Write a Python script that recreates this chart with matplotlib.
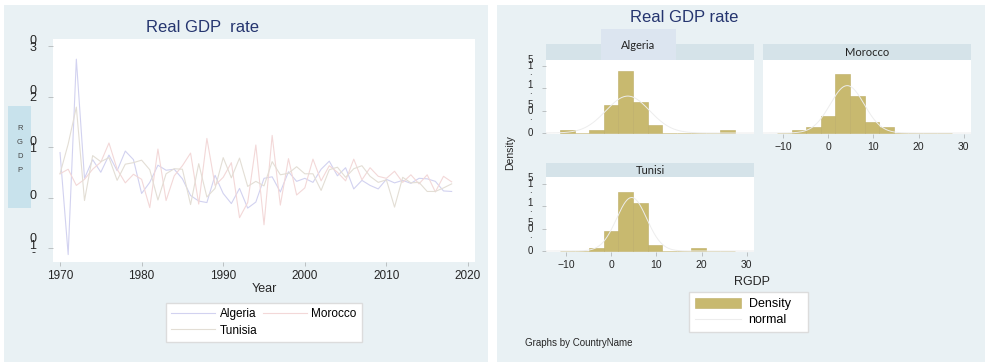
import numpy as np
import matplotlib
matplotlib.use("Agg")
import matplotlib.pyplot as plt
from matplotlib.patches import Rectangle, Patch
from matplotlib.lines import Line2D

# ---------------- data: real GDP growth (%) ----------------
years = list(range(1970, 2019))

algeria = [8.9, -11.3, 27.4, 3.8, 7.5, 5.0, 8.4, 5.3, 9.2, 7.5,
           0.8, 3.0, 6.4, 5.4, 5.6, 3.7, 0.4, -0.7, -1.0, 4.4,
           0.8, -1.2, 1.8, -2.1, -0.9, 3.8, 4.1, 1.1, 5.1, 3.2,
           3.8, 3.0, 5.6, 7.2, 4.3, 5.9, 1.7, 3.4, 2.4, 1.7,
           3.6, 2.9, 3.4, 2.8, 3.8, 3.7, 3.2, 1.3, 1.2]

morocco = [4.7, 5.6, 2.4, 3.6, 5.6, 7.0, 10.8, 5.6, 2.9, 4.6,
           3.6, -2.0, 9.6, -0.6, 4.3, 6.3, 8.8, -1.3, 11.7, 2.4,
           4.0, 6.9, -4.0, -1.0, 10.4, -5.4, 12.3, -1.5, 7.7, 0.5,
           1.9, 7.6, 3.3, 6.3, 5.0, 3.3, 7.6, 3.5, 5.9, 4.2,
           3.8, 5.2, 3.0, 4.5, 2.7, 4.5, 1.1, 4.2, 3.1]

tunisia = [4.7, 10.6, 17.9, -0.6, 8.3, 7.1, 7.9, 3.4, 6.6, 6.9,
           7.4, 5.5, -0.5, 4.7, 5.7, 5.6, -1.4, 6.7, 0.1, 1.8,
           7.9, 3.9, 7.8, 2.2, 3.2, 2.3, 7.1, 4.5, 4.8, 6.1,
           4.7, 4.7, 1.4, 5.5, 6.0, 4.0, 5.7, 6.3, 4.2, 3.0,
           3.5, -1.9, 4.0, 2.9, 3.0, 1.2, 1.2, 1.9, 2.7]

countries = ["Algeria", "Morocco", "Tunisia"]
strip_titles = ["Algeria", "Morocco", "Tunisi"]

year_ticks = [1970, 1980, 1990, 2000, 2010, 2020]
rgdp_ticks = [-10, 0, 10, 20, 30]
rgdp_tick_labels = ["-10", "0", "10", "20", "30"]
hist_xticks = [-10, 0, 10, 20, 30]
density_ticks = [0, 0.05, 0.10, 0.15]
density_tick_labels = ["0", ".05", ".1", ".15"]

# ---------------- style ----------------
plt.rcParams["font.family"] = ["Liberation Sans", "DejaVu Sans"]
PANEL_BG = "#e9f1f4"
STRIP = "#d5e3e9"
TAB = "#dce5f0"
RGDP_BOX = "#c8e2ec"
TITLE_C = "#25356f"
TICK_C = "#262626"
TICKMARK_C = "#b4b8ba"
BAR_C = "#c8b96f"
BAR_EDGE = "#bdad66"
NORMAL_C = "#ededed"
LINE_C = {"Algeria": "#d2d2f0", "Morocco": "#f3d8d8", "Tunisia": "#e3ded5"}

W, H = 985, 362
fig = plt.figure(figsize=(W / 100, H / 100), dpi=100, facecolor="white")


def fx(x):
    return x / W


def fy(y):
    return 1 - y / H


def px_axes(x0, y0, x1, y1):
    a = fig.add_axes([x0 / W, 1 - y1 / H, (x1 - x0) / W, (y1 - y0) / H])
    a.set_zorder(5)
    return a


def px_rect(x0, y0, x1, y1, color, z=0):
    fig.patches.append(Rectangle((x0 / W, 1 - y1 / H), (x1 - x0) / W, (y1 - y0) / H,
                                 transform=fig.transFigure, facecolor=color,
                                 edgecolor="none", zorder=z))


def stacked_label(ax, value, text, x_off, step, size, shift):
    """Tick label with its characters stacked bottom-to-top."""
    n = len(text)
    for i, ch in enumerate(text):
        dy = shift + ((n - 1) / 2 - i) * step
        ax.annotate(ch, xy=(0, value), xycoords=("axes fraction", "data"),
                    xytext=(x_off * 0.72, -dy * 0.72), textcoords="offset points",
                    ha="center", va="center", fontsize=size, color=TICK_C,
                    annotation_clip=False)


# panel backgrounds
px_rect(4, 5, 488, 362, PANEL_BG)
px_rect(497, 5, 985, 362, PANEL_BG)

# ================= left: time series =================
ax = px_axes(53, 39, 475, 262)
ax.set_facecolor("white")
series = {"Algeria": algeria, "Morocco": morocco, "Tunisia": tunisia}
handles = {}
for c in countries:
    handles[c], = ax.plot(years, series[c], color=LINE_C[c], lw=0.8)
ax.set_xlim(1969.14, 2020.86)
ax.set_ylim(-12.77, 31.39)
for s in ax.spines.values():
    s.set_visible(False)
ax.set_xticks(year_ticks)
ax.set_yticks(rgdp_ticks)
ax.set_yticklabels([])
ax.tick_params(axis="x", length=3, width=0.6, color=TICKMARK_C, pad=3,
               labelsize=8.5, labelcolor=TICK_C)
ax.tick_params(axis="y", length=3.5, width=0.6, color=TICKMARK_C)
for v, lab in zip(rgdp_ticks, rgdp_tick_labels):
    stacked_label(ax, v, lab, x_off=-20, step=7, size=9, shift=-2)

fig.text(fx(203), fy(27), "Real GDP  rate", fontsize=12, color=TITLE_C,
         ha="center", va="center")
fig.text(fx(264), fy(289), "Year", fontsize=9, color=TICK_C, ha="center", va="center")

px_rect(8, 106, 31, 208, RGDP_BOX, z=1)
for k, ch in enumerate("RGDP"):
    fig.text(fx(20), fy(128 + 14 * k), ch, fontsize=5.5, color="#444444",
             ha="center", va="center", zorder=2)

leg1 = fig.legend([handles["Algeria"], handles["Tunisia"], handles["Morocco"]],
                  ["Algeria", "Tunisia", "Morocco"], ncol=2, loc="center",
                  bbox_to_anchor=(fx(160), fy(342), fx(208), 39 / H), mode="expand",
                  frameon=True, fancybox=False, edgecolor="#dcdcdc", facecolor="white",
                  framealpha=1, fontsize=8.5, handlelength=3.7, handletextpad=0.4,
                  columnspacing=1.2, labelspacing=0.35, borderpad=0.45)
leg1.set_zorder(6)

# ================= right: histograms by country =================
fig.text(fx(684), fy(17), "Real GDP rate", fontsize=12, color=TITLE_C,
         ha="center", va="center")

all_vals = np.concatenate([algeria, morocco, tunisia])
_, bin_edges = np.histogram(all_vals, bins=12)
xgrid = np.linspace(-14.4, 31.6, 300)

facets = {
    "Algeria": dict(box=(546, 60, 754, 134), strip=(546, 44, 754, 60), ylim=(-0.0022, 0.1633),
                    xlab=False, ylab=True),
    "Morocco": dict(box=(763, 60, 971, 134), strip=(763, 44, 971, 60), ylim=(-0.0022, 0.1633),
                    xlab=True, ylab=False),
    "Tunisia": dict(box=(546, 177, 754, 252), strip=(546, 163, 754, 177), ylim=(-0.0022, 0.1655),
                    xlab=True, ylab=True),
}

# strips (Algeria has a raised tab behind its title)
px_rect(601, 29, 676, 60, TAB, z=1)
for c, title in zip(countries, strip_titles):
    f = facets[c]
    x0, y0, x1, y1 = f["strip"]
    if c == "Algeria":
        px_rect(x0, y0, 601, y1, STRIP, z=1)
        px_rect(676, y0, x1, y1, STRIP, z=1)
        fig.text(fx(638.5), fy(45.5), title, fontsize=8, family=["Lato", "DejaVu Sans"],
                 color="#222222", ha="center", va="center", zorder=3)
    else:
        px_rect(x0, y0, x1, y1, STRIP, z=1)
        fig.text(fx((x0 + x1) / 2), fy((y0 + y1) / 2), title, fontsize=8,
                 family=["Lato", "DejaVu Sans"], color="#222222",
                 ha="center", va="center", zorder=3)

for c in countries:
    f = facets[c]
    hx = px_axes(*f["box"])
    hx.set_facecolor("white")
    vals = np.array(series[c])
    hx.hist(vals, bins=bin_edges, density=True, color=BAR_C, edgecolor=BAR_EDGE, lw=0.4)
    mu, sd = vals.mean(), vals.std(ddof=1)
    hx.plot(xgrid, np.exp(-0.5 * ((xgrid - mu) / sd) ** 2) / (sd * np.sqrt(2 * np.pi)),
            color=NORMAL_C, lw=0.7)
    hx.set_xlim(-14.42, 31.6)
    hx.set_ylim(*f["ylim"])
    for s in hx.spines.values():
        s.set_visible(False)
    if f["xlab"]:
        hx.set_xticks(hist_xticks)
        hx.tick_params(axis="x", length=3, width=0.6, color=TICKMARK_C, pad=2.5,
                       labelsize=7.5, labelcolor=TICK_C)
    else:
        hx.set_xticks([])
    if f["ylab"]:
        hx.set_yticks(density_ticks)
        hx.set_yticklabels([])
        hx.tick_params(axis="y", length=3, width=0.6, color=TICKMARK_C)
        for v, lab in zip(density_ticks, density_tick_labels):
            stacked_label(hx, v, lab, x_off=-16, step=6, size=7, shift=0)
    else:
        hx.set_yticks([])

fig.text(fx(510), fy(153), "Density", rotation=90, fontsize=7.5, color=TICK_C,
         ha="center", va="center")
fig.text(fx(752), fy(282), "RGDP", fontsize=9, color=TICK_C, ha="center", va="center")

leg2 = fig.legend([Patch(facecolor=BAR_C, edgecolor=BAR_EDGE, lw=0.4),
                   Line2D([], [], color=NORMAL_C, lw=0.8)],
                  ["Density", "normal"], loc="center",
                  bbox_to_anchor=(fx(683), fy(332), fx(131), 40 / H), mode="expand",
                  frameon=True, fancybox=False, edgecolor="#dcdcdc", facecolor="white",
                  framealpha=1, fontsize=9, handlelength=3.7, handleheight=0.9,
                  handletextpad=0.6, labelspacing=0.3, borderpad=0.45)
leg2.set_zorder(6)

fig.text(fx(525), fy(343), "Graphs by CountryName", fontsize=7, color=TICK_C,
         ha="left", va="center")

fig.savefig("out.png", dpi=100, facecolor="white")
